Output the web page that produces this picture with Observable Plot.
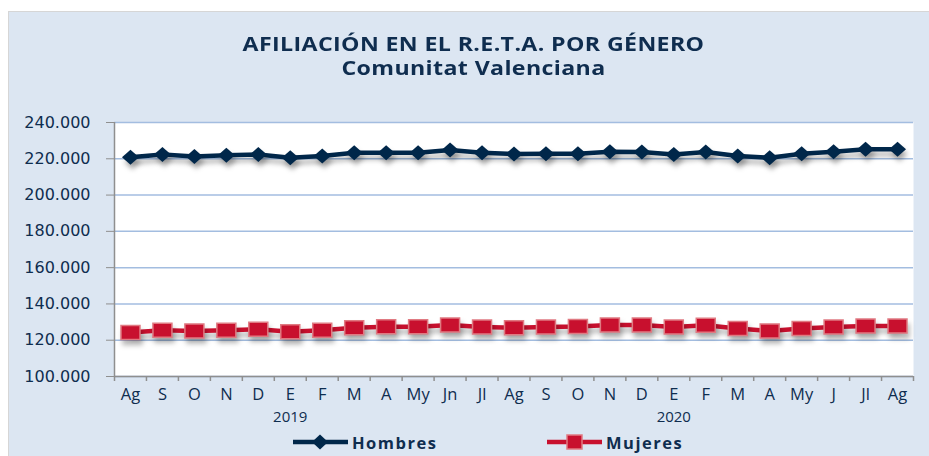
<!DOCTYPE html>
<html>
<head>
<meta charset="utf-8">
<script src="https://cdn.jsdelivr.net/npm/d3@7"></script>
<script src="https://cdn.jsdelivr.net/npm/@observablehq/plot@0.6"></script>
<style>
  body { margin:0; background:#fff; width:929px; height:456px; overflow:hidden; position:relative; font-family:"Open Sans", sans-serif; }
  #panel { position:absolute; left:8px; top:11px; width:921px; height:445px; background:#dce6f2; border-top:1px solid #d6d6d6; border-left:1px solid #d6d6d6; }
  #title { position:absolute; left:8.5px; top:32px; width:929px; text-align:center; color:#0f2d4f; font-weight:700; font-size:19px; line-height:24px; letter-spacing:0.3px; transform:scaleX(1.22); transform-origin:50% 0; }
  #chart { position:absolute; left:0; top:100px; }
  #legend { position:absolute; left:0; top:430px; width:929px; height:26px; }
  #chart g[aria-label="line"], #chart g[aria-label="dot"] { filter: drop-shadow(2px 5px 2.5px rgba(0,0,0,0.28)); }
  .leg { position:absolute; top:0; height:24px; display:flex; align-items:center; font-weight:700; font-size:16.5px; color:#0f2d4f; letter-spacing:1.5px; }
</style>
</head>
<body>
<div id="panel"></div>
<div id="title">AFILIACIÓN EN EL R.E.T.A. POR GÉNERO<br>Comunitat Valenciana</div>
<div id="chart"></div>
<div id="legend">
  <div class="leg" style="left:293px">
    <svg width="56" height="24"><line x1="0" y1="12" x2="55" y2="12" stroke="#00274a" stroke-width="4.5"/><path d="M27,4.5L35,12L27,19.5L19,12Z" fill="#00274a"/></svg>
    <span style="margin-left:3px">Hombres</span>
  </div>
  <div class="leg" style="left:547px">
    <svg width="56" height="24"><line x1="0" y1="12" x2="55" y2="12" stroke="#c8102e" stroke-width="4.5"/><rect x="20" y="5" width="15" height="14" fill="#c8102e" stroke="#e07a82" stroke-width="1.5"/></svg>
    <span style="margin-left:3px">Mujeres</span>
  </div>
</div>
<script>
const months = ["Ag","S","O","N","D","E","F","M","A","My","Jn","Jl","Ag","S","O","N","D","E","F","M","A","My","J","Jl","Ag"];
const hombres = [220900,222400,221300,221900,222400,220600,221500,223300,223300,223300,224800,223300,222600,222800,222800,223900,223700,222400,223700,221500,220600,222800,223900,225200,225200];
const mujeres = [124200,125500,125100,125500,126000,124700,125500,126900,127400,127400,128400,127300,126900,127300,127600,128400,128400,127300,128200,126500,125100,126500,127300,127800,127800];
const years = ["2019","2020"];
const yearPos = [5,17];
const yTicks = [100000,120000,140000,160000,180000,200000,220000,240000];

const fmt = d3.formatLocale({decimal:",", thousands:".", grouping:[3], currency:["","€"]}).format(",d");
const idx = months.map((m,i)=>i);
const bounds = d3.range(months.length + 1).map(i => i - 0.5);

const rectSym = {draw(ctx){ctx.moveTo(-9.5,-7);ctx.lineTo(9.5,-7);ctx.lineTo(9.5,7);ctx.lineTo(-9.5,7);ctx.closePath();}};
const diamSym = {draw(ctx){ctx.moveTo(0,-7.5);ctx.lineTo(8.5,0);ctx.lineTo(0,7.5);ctx.lineTo(-8.5,0);ctx.closePath();}};

const textColor = "#0f2d4f";
const chart = Plot.plot({
  width: 929, height: 320,
  marginLeft: 114, marginRight: 16, marginTop: 22, marginBottom: 44,
  style: {background: "transparent", overflow: "visible", color: textColor},
  x: {type: "linear", domain: [-0.5, months.length - 0.5]},
  y: {domain: [100000, 240000]},
  marks: [
    Plot.frame({fill: "white", stroke: null}),
    Plot.gridY(yTicks, {stroke: "#a3bde0", strokeOpacity: 1, strokeWidth: 1.5}),
    Plot.ruleX([-0.5], {stroke: "#8f8f8f", strokeWidth: 1.5}),
    Plot.ruleY([100000], {stroke: "#8f8f8f", strokeWidth: 1.5}),
    Plot.axisY(yTicks, {tickSize: 8, tickPadding: 16, tickFormat: fmt, stroke: "#8f8f8f", fill: textColor, fontSize: 16, fontFamily: "DejaVu Sans", textAnchor: "end", letterSpacing: 1.2}),
    Plot.axisX(bounds, {tickSize: 5, tickFormat: () => "", stroke: "#8f8f8f", strokeWidth: 1.5}),
    Plot.axisX(idx, {tickSize: 0, tickPadding: 12, tickFormat: i => months[i], fill: textColor, fontSize: 16.5, fontFamily: "Open Sans", letterSpacing: 0.4}),
    Plot.text(years, {x: (d, i) => yearPos[i], y: () => 100000, dy: 41, fill: textColor, fontSize: 15, fontFamily: "Open Sans", letterSpacing: 1.6}),
    Plot.line(mujeres, {x: (d, i) => i, y: d => d, stroke: "#c8102e", strokeWidth: 4.5}),
    Plot.dot(mujeres, {x: (d, i) => i, y: d => d, symbol: rectSym, fill: "#c8102e", stroke: "#e07a82", strokeWidth: 1.5}),
    Plot.line(hombres, {x: (d, i) => i, y: d => d, stroke: "#00274a", strokeWidth: 4.5}),
    Plot.dot(hombres, {x: (d, i) => i, y: d => d, symbol: diamSym, fill: "#00274a", stroke: "none"})
  ]
});
document.getElementById("chart").appendChild(chart);
</script>
</body>
</html>
